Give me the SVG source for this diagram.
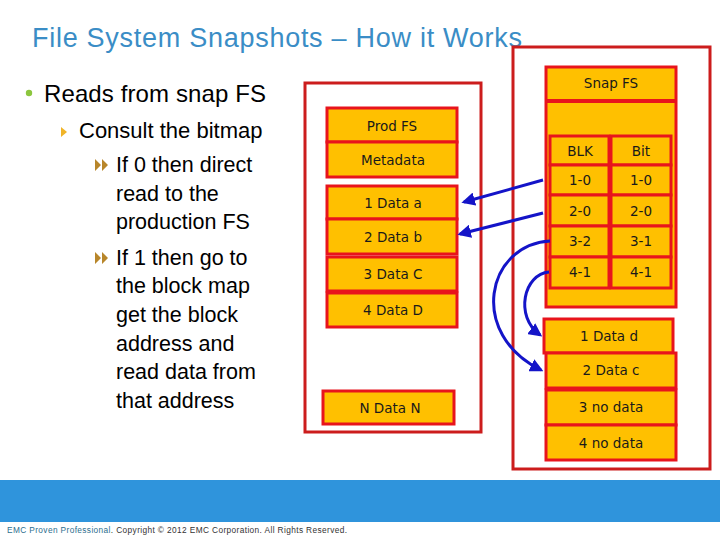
<svg xmlns="http://www.w3.org/2000/svg" width="720" height="540" viewBox="0 0 720 540">
<style>
.title{font-family:"Liberation Sans",Arial,sans-serif;font-size:27px;fill:#3A8DC6}
.t1{font-family:"Liberation Sans",Arial,sans-serif;font-size:24px;fill:#000}
.t2{font-family:"Liberation Sans",Arial,sans-serif;font-size:22px;fill:#000}
.t3{font-family:"Liberation Sans",Arial,sans-serif;font-size:21.5px;fill:#000}
.cont{fill:#fff;stroke:#CC1C1C;stroke-width:3}
.box{fill:#FFC000;stroke:#E8141C;stroke-width:3}
.lbl{font-family:"DejaVu Sans",Verdana,sans-serif;font-size:13.5px;fill:#1a1a1a;text-anchor:middle;dominant-baseline:central}
.conn{fill:none;stroke:#1414C8;stroke-width:3}
.foot{font-family:"Liberation Sans",Arial,sans-serif;font-size:8.3px}
</style>
<defs>
<marker id="ah" viewBox="0 0 10 10" refX="8" refY="5" markerWidth="4.5" markerHeight="4.5" orient="auto" markerUnits="strokeWidth">
<path d="M0,0 L10,5 L0,10 z" fill="#1414C8"/>
</marker>
</defs>
<rect width="720" height="540" fill="#fff"/>
<text class="title" x="32" y="47" textLength="490">File System Snapshots – How it Works</text>

<g id="bullets">
<circle cx="29" cy="93" r="3.2" fill="#8CC63E"/>
<text class="t1" x="44" y="102" textLength="222">Reads from snap FS</text>
<path d="M61,127 L67,132 L61,137 z" fill="#F0B428"/>
<text class="t2" x="79" y="138">Consult the bitmap</text>
<path d="M95,159 L101,165 L95,171 z M102,159 L108,165 L102,171 z" fill="#B8862A"/>
<text class="t3" x="116" y="172">If 0 then direct</text>
<text class="t3" x="116" y="201">read to the</text>
<text class="t3" x="116" y="229">production FS</text>
<path d="M95,252 L101,258 L95,264 z M102,252 L108,258 L102,264 z" fill="#B8862A"/>
<text class="t3" x="116" y="265">If 1 then go to</text>
<text class="t3" x="116" y="293">the block map</text>
<text class="t3" x="116" y="322">get the block</text>
<text class="t3" x="116" y="351">address and</text>
<text class="t3" x="116" y="379">read data from</text>
<text class="t3" x="116" y="408">that address</text>
</g>

<g id="prod-container">
<rect class="cont" x="305" y="83" width="176" height="349"/>
</g>
<g id="snap-container">
<rect class="cont" x="513" y="47" width="197" height="422"/>
</g>

<g id="prod-fs"><rect class="box" x="327" y="108" width="130" height="34"/><text class="lbl" x="392" y="126">Prod FS</text></g>
<g id="metadata"><rect class="box" x="327" y="142" width="130" height="35"/><text class="lbl" x="393" y="160">Metadata</text></g>
<g id="data-1a"><rect class="box" x="327" y="186" width="130" height="33"/><text class="lbl" x="393" y="203">1 Data a</text></g>
<g id="data-2b"><rect class="box" x="327" y="219" width="130" height="35"/><text class="lbl" x="393" y="237">2 Data b</text></g>
<g id="data-3c"><rect class="box" x="327" y="257" width="130" height="34"/><text class="lbl" x="393" y="274">3 Data C</text></g>
<g id="data-4d"><rect class="box" x="327" y="293" width="130" height="34"/><text class="lbl" x="393" y="310">4 Data D</text></g>
<g id="data-nn"><rect class="box" x="323" y="391" width="131" height="33"/><text class="lbl" x="390" y="408">N Data N</text></g>

<g id="snap-fs">
<rect class="box" x="546" y="67" width="130" height="240"/>
<line x1="546" y1="101" x2="676" y2="101" stroke="#E8141C" stroke-width="4"/>
<text class="lbl" x="611" y="83">Snap FS</text>
</g>
<g id="blockmap">
<rect class="box" x="550" y="136" width="59" height="29"/><text class="lbl" x="580" y="151">BLK</text>
<rect class="box" x="611" y="136" width="60" height="29"/><text class="lbl" x="641" y="151">Bit</text>
<rect class="box" x="550" y="165" width="59" height="30"/><text class="lbl" x="580" y="180">1-0</text>
<rect class="box" x="611" y="165" width="60" height="30"/><text class="lbl" x="641" y="180">1-0</text>
<rect class="box" x="550" y="195" width="59" height="31"/><text class="lbl" x="580" y="211">2-0</text>
<rect class="box" x="611" y="195" width="60" height="31"/><text class="lbl" x="641" y="211">2-0</text>
<rect class="box" x="550" y="226" width="59" height="31"/><text class="lbl" x="580" y="241">3-2</text>
<rect class="box" x="611" y="226" width="60" height="31"/><text class="lbl" x="641" y="241">3-1</text>
<rect class="box" x="550" y="257" width="59" height="31"/><text class="lbl" x="580" y="272">4-1</text>
<rect class="box" x="611" y="257" width="60" height="31"/><text class="lbl" x="641" y="272">4-1</text>
</g>

<g id="data-1d"><rect class="box" x="544" y="319" width="129" height="34"/><text class="lbl" x="609" y="336">1 Data d</text></g>
<g id="data-2c"><rect class="box" x="546" y="353" width="130" height="35"/><text class="lbl" x="611" y="370">2 Data c</text></g>
<g id="data-3n"><rect class="box" x="546" y="390" width="130" height="35"/><text class="lbl" x="611" y="407">3 no data</text></g>
<g id="data-4n"><rect class="box" x="546" y="425" width="130" height="35"/><text class="lbl" x="611" y="443">4 no data</text></g>

<g id="connectors">
<path class="conn" d="M543,180 L464,202" marker-end="url(#ah)"/>
<path class="conn" d="M543,213 L460,234" marker-end="url(#ah)"/>
<path class="conn" d="M550,241 C486,245 468,334 541,370" marker-end="url(#ah)"/>
<path class="conn" d="M549,272 C524,274 514,316 540,335" marker-end="url(#ah)"/>
</g>

<g id="footer">
<rect x="0" y="480" width="720" height="42" fill="#2F94DC"/>
<text class="foot" x="7" y="533" textLength="340"><tspan fill="#2C6E8E">EMC Proven Professional</tspan><tspan fill="#333">. Copyright © 2012 EMC Corporation. All Rights Reserved.</tspan></text>
</g>
</svg>
